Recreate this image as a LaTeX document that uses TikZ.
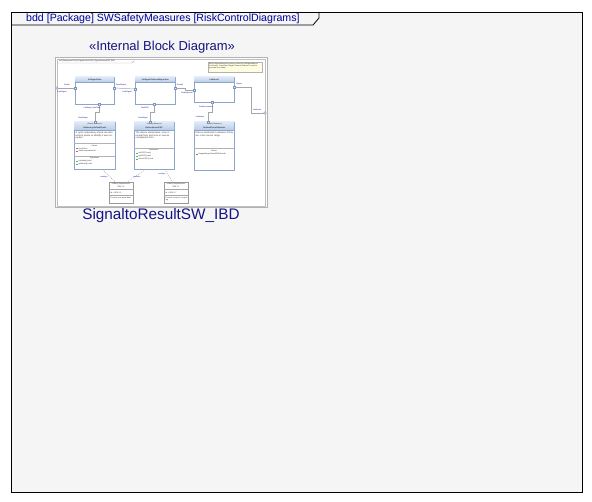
\documentclass[tikz,border=0pt]{standalone}
\usepackage{fontspec}
\setmainfont{Liberation Sans}
\definecolor{blkborder}{RGB}{140,165,200}
\definecolor{hdtop}{RGB}{225,235,248}
\definecolor{hdbot}{RGB}{185,205,232}
\definecolor{portb}{RGB}{120,150,190}
\definecolor{titleblue}{RGB}{0,0,160}
\definecolor{capblue}{RGB}{20,20,130}
\definecolor{notefill}{RGB}{255,253,225}
\begin{document}
\begin{tikzpicture}[x=1pt,y=-1pt,
  framecol/.style={draw=black,line width=1.3pt},
  tinytext/.style={font=\fontsize{1.9}{2.2}\selectfont,inner sep=0pt,text=black!80},
  lbl/.style={font=\fontsize{1.8}{2}\selectfont,inner sep=0pt,text=blue!60!black},
  blk/.style={draw=blkborder,line width=0.5pt,fill=white,inner sep=0pt,anchor=north west},
  port/.style={draw=portb,fill=hdtop,line width=0.3pt,minimum size=2.2pt,inner sep=0pt},
  conn/.style={draw=gray!70,line width=0.5pt},
  dconn/.style={draw=gray!70,line width=0.4pt,dash pattern=on 1pt off 1pt},
  cmp/.style={draw=gray!80,line width=0.5pt,fill=white,inner sep=0pt,anchor=north west}
]
\useasboundingbox (0,0) rectangle (592,502);
\fill[white] (0,0) rectangle (592,502);
% outer frame
\node[framecol,fill=black!4,minimum width=571pt,minimum height=480pt,anchor=north west,inner sep=0pt] (frame) at (11,12) {};
\draw[line width=0.8pt] (11,25) -- (313,25) -- (319,18) -- (319,12);
\node[anchor=base west,inner sep=0pt,text=titleblue,font=\fontsize{10.6}{13}\selectfont] (title) at (26,21.5) {bdd [Package] SWSafetyMeasures [RiskControlDiagrams]};
% caption texts
\node[inner sep=0pt,text=capblue,font=\fontsize{13}{16}\selectfont] (stereo) at (162,47) {«Internal Block Diagram»};
\node[inner sep=0pt,text=capblue,font=\fontsize{15.3}{17}\selectfont] (dname) at (161,216) {SignaltoResultSW\_IBD};
% thumbnail
\node[draw=gray!60,fill=white,line width=0.6pt,minimum width=212pt,minimum height=150pt,anchor=north west,inner sep=0pt] (thumb) at (55,57) {};
\node[draw=gray!50,line width=0.4pt,minimum width=208pt,minimum height=147pt,anchor=north west,inner sep=0pt] (iframe) at (57,59) {};
\draw[gray!60,line width=0.4pt] (57,63) -- (132,63) -- (134,61) -- (134,59);
\node[tinytext,anchor=west] (ititle) at (59,61) {ibd [Subsystem Block] SignaltoResultSW [SignaltoResultSW\_IBD]};
% note
\node[draw=gray!60,fill=notefill,line width=0.4pt,minimum width=54pt,minimum height=10pt,anchor=north west,inner sep=0pt] (note) at (208,62) {};
\node[tinytext,anchor=north west,text width=52pt,align=left] (notetext) at (209,63) {Block representing the process from the InitSignalData to the Result. Protection Single Channel Pattern is used to generate the safety.};
% upper blocks
\node[blk,minimum width=39pt,minimum height=27pt] (b1) at (75,77) {};
\node[blk,minimum width=40pt,minimum height=27pt] (b2) at (135,77) {};
\node[blk,minimum width=40pt,minimum height=25pt] (b3) at (194,77) {};
\foreach \n in {b1,b2,b3}{
  \shade[top color=hdtop,bottom color=hdbot] ([shift={(0.4,-0.4)}]\n.north west) rectangle ([shift={(-0.4,5)}]\n.north east);
  \draw[blkborder,line width=0.4pt] ([yshift=-5]\n.north west) -- ([yshift=-5]\n.north east);
}
\node[tinytext,font=\fontsize{2}{2.2}\selectfont\bfseries] (b1n) at ([yshift=-2.5]b1.north) {InitSignalData};
\node[tinytext,font=\fontsize{2}{2.2}\selectfont\bfseries] (b2n) at ([yshift=-2.5]b2.north) {InitSignalToResultAlgorithm};
\node[tinytext,font=\fontsize{2}{2.2}\selectfont\bfseries] (b3n) at ([yshift=-2.5]b3.north) {InitResult};
% lower blocks
\node[blk,minimum width=41pt,minimum height=47pt] (b4) at (74,122) {};
\node[blk,minimum width=40pt,minimum height=47pt] (b5) at (134,122) {};
\node[blk,minimum width=40pt,minimum height=48pt] (b6) at (194,122) {};
\foreach \n in {b4,b5,b6}{
  \shade[top color=hdtop,bottom color=hdbot] ([shift={(0.4,-0.4)}]\n.north west) rectangle ([shift={(-0.4,8)}]\n.north east);
  \draw[blkborder,line width=0.4pt] ([yshift=-8]\n.north west) -- ([yshift=-8]\n.north east);
}
\node[tinytext] (b4s) at ([yshift=-2.5]b4.north) {«Safety Measure»};
\node[tinytext,font=\fontsize{2}{2.2}\selectfont\bfseries] (b4n) at ([yshift=-5.5]b4.north) {RefinedcyclicRedCheck};
\node[tinytext] (b5s) at ([yshift=-2.5]b5.north) {«Safety Measure»};
\node[tinytext,font=\fontsize{2}{2.2}\selectfont\bfseries] (b5n) at ([yshift=-5.5]b5.north) {RefinedInvertCRC};
\node[tinytext] (b6s) at ([yshift=-2.5]b6.north) {«Safety Measure»};
\node[tinytext,font=\fontsize{2}{2.2}\selectfont\bfseries] (b6n) at ([yshift=-5.5]b6.north) {RefinedPlausibilization};
% body texts
\node[tinytext,anchor=north west,text width=38pt,align=left,font=\fontsize{2.3}{2.8}\selectfont] (b4t) at (75.5,131.5) {A cyclic redundancy check can also enforce phase to identify it was corruption.};
\node[tinytext,anchor=north west,text width=38pt,align=left,font=\fontsize{2.3}{2.8}\selectfont] (b5t) at (135.5,131.5) {The data is stored twice, once in normal form and once in inverse complement form.};
\node[tinytext,anchor=north west,text width=38pt,align=left,font=\fontsize{2.3}{2.8}\selectfont] (b6t) at (195.5,131.5) {Data is monitored in advance if they are in the correct range.};
% compartments
\draw[gray!60,line width=0.3pt] (74,143) -- (115,143) (74,156) -- (115,156) (134,148) -- (174,148) (194,148) -- (234,148);
\node[tinytext] (b4v) at (94.5,145.5) {Values};
\node[tinytext] (b4o) at (94.5,158.5) {Operations};
\node[tinytext] (b5o) at (154,150.5) {Operations};
\node[tinytext] (b6v) at (214,150.5) {Values};
\foreach \yy/\tx in {148.5/checkSum,151.5/dataComputation{:}Int}{
  \fill[red!60!black!60] (76,\yy-0.9) rectangle (77.8,\yy+0.9);
  \node[tinytext,anchor=west] at (78.5,\yy) {\tx};}
\foreach \yy/\tx in {161.5/calculate(){:}void,164.5/getResult(){:}void}{
  \fill[green!50!black!60] (76,\yy-0.9) rectangle (77.8,\yy+0.9);
  \node[tinytext,anchor=west] at (78.5,\yy) {\tx};}
\foreach \yy/\tx in {153.5/setCRC(){:}void,156.5/getCRC(){:}void,159.5/checkCRC(){:}void}{
  \fill[green!50!black!60] (136,\yy-0.9) rectangle (137.8,\yy+0.9);
  \node[tinytext,anchor=west] at (138.5,\yy) {\tx};}
\fill[red!60!black!60] (196,153.6) rectangle (197.8,155.4);
\node[tinytext,anchor=west] (b6val) at (198.5,154.5) {RangeMargin:ResultSW Results};
% requirement boxes
\node[cmp,minimum width=24pt,minimum height=21pt] (r1) at (109,182) {};
\node[cmp,minimum width=24pt,minimum height=21pt] (r2) at (164,182) {};
\foreach \n in {r1,r2}{
  \draw[gray!70,line width=0.3pt] ([yshift=-7.5]\n.north west) -- ([yshift=-7.5]\n.north east) ([yshift=-13.5]\n.north west) -- ([yshift=-13.5]\n.north east);}
\node[tinytext] (r1s) at (121,184.5) {«Safety Requirement»};
\node[tinytext] (r1n) at (121,187) {SR6.1.6};
\node[tinytext,anchor=west] (r1i) at (110.5,192.5) {Id = SR6.1.6};
\node[tinytext,anchor=north west,text width=22pt] (r1x) at (110.5,197) {Prevent erroneous data};
\node[tinytext] (r2s) at (176,184.5) {«Safety Requirement»};
\node[tinytext] (r2n) at (176,187) {SR6.1.7};
\node[tinytext,anchor=west] (r2i) at (165.5,192.5) {Id = SR6.1.7};
\node[tinytext,anchor=north west,text width=22pt] (r2x) at (165.5,197) {Prevent incorrect computing};
% ports
\node[port,circle,minimum size=2.6pt] (p0) at (57,88) {};
\node[port] (p1l) at (75,88) {};
\node[port] (p1r) at (114,88) {};
\node[port] (p2l) at (135,89) {};
\node[port] (p2r) at (175,88) {};
\node[port] (p3l) at (194,90) {};
\node[port] (p3r) at (234,87) {};
\node[port,circle,minimum size=2.6pt] (pout) at (265,113) {};
\node[port] (p1b) at (99,104) {};
\node[port] (p2b) at (154,104) {};
\node[port] (p3b) at (212,102) {};
\node[port] (p4t) at (95,122) {};
\node[port] (p5t) at (150,122) {};
\node[port] (p6t) at (208,122) {};
% connectors
\draw[conn] (p0) -- (p1l);
\draw[conn] (p1r) -- (p2l);
\draw[conn] (p2r) -- (185,88) -- (185,90) -- (p3l);
\draw[conn] (p3r) -- (251,87) -- (251,113) -- (pout);
\draw[conn] (p1b) -- (99,112) -- (95,112) -- (p4t);
\draw[conn] (p2b) -- (154,112) -- (150,112) -- (p5t);
\draw[conn] (p3b) -- (212,112) -- (208,112) -- (p6t);
\path (b4.south) ++(8,0) coordinate (d1) (r1.north) ++(-6,0) coordinate (d2);
\draw[dconn] (d1) -- (d2);
\path (b5.south) ++(-9,0) coordinate (d3) (r1.north) ++(6,0) coordinate (d4);
\draw[dconn] (d3) -- (d4);
\path (b5.south) ++(11,0) coordinate (d5) (r2.north) ++(-4,0) coordinate (d6);
\draw[dconn] (d5) -- (d6);
% labels
\node[lbl] (l1) at (67,85) {FaultIn};
\node[lbl] (l2) at (62,92) {FaultSignal};
\node[lbl] (l3) at (121,85) {ResultSignal};
\node[lbl] (l4) at (127,92) {FaultSignal};
\node[lbl] (l5) at (180,85) {ResultA};
\node[lbl] (l6) at (187,93) {FaultingResult};
\node[lbl] (l7) at (239,84) {Output};
\node[lbl] (l8) at (257,110) {OutResult};
\node[lbl] (l9) at (92,108) {FaultInput\_SubFlash};
\node[lbl] (l10) at (83,118) {FaultOutput};
\node[lbl] (l11) at (145,108) {FaultCRC};
\node[lbl] (l12) at (143,118) {FaultOutput};
\node[lbl] (l13) at (206,107) {FaultInconsistent};
\node[lbl] (l14) at (200,117) {FaultInput};
\node[lbl] (l15) at (104,177) {«satisfy»};
\node[lbl] (l16) at (137,177) {«satisfy»};
\node[lbl] (l17) at (162,174) {«satisfy»};
\end{tikzpicture}
\end{document}
